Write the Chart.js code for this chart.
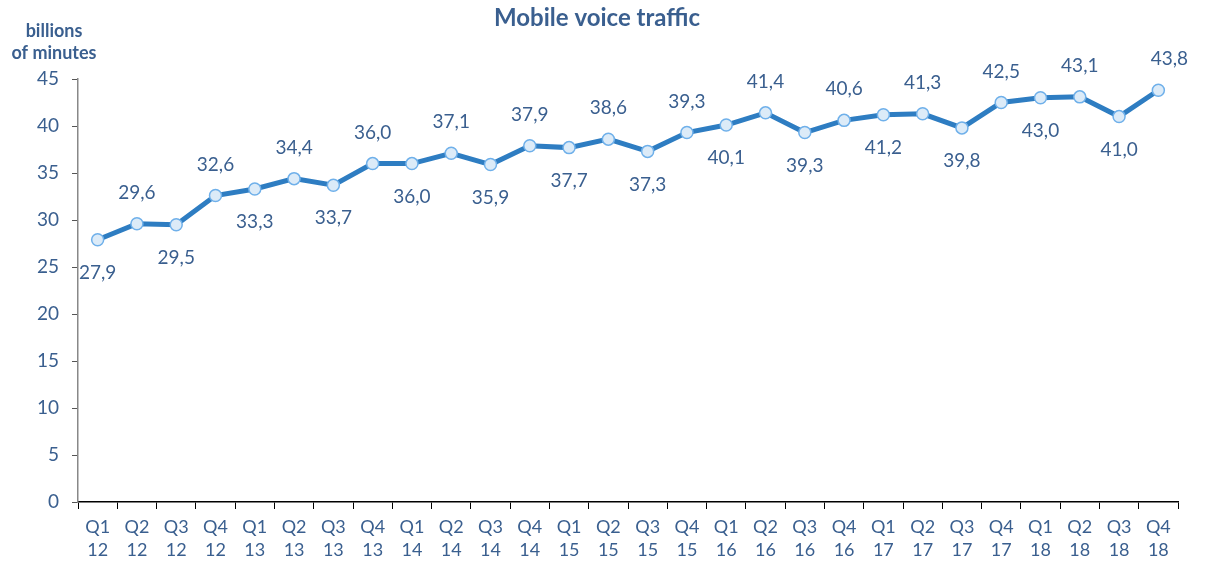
<!DOCTYPE html>
<html lang="en">
<head>
    <meta charset="UTF-8">
    <title>Mobile voice traffic</title>
    <script src="https://cdn.jsdelivr.net/npm/chart.js@4.0.1/dist/chart.umd.min.js"></script>
    <style>
        html, body {
            margin: 0;
            padding: 0;
            background: #fff;
        }
        .wrap {
            width: 1207px;
            height: 567px;
        }
    </style>
</head>
<body>
    <div class="wrap">
        <canvas id="chrt" aria-label="chart" role="img"></canvas>
    </div>
    <script>
        const quarters = ['Q1', 'Q2', 'Q3', 'Q4']
        const years = ['12', '13', '14', '15', '16', '17', '18']
        const traffic = [27.9, 29.6, 29.5, 32.6, 33.3, 34.4, 33.7, 36.0, 36.0, 37.1, 35.9, 37.9, 37.7, 38.6,
            37.3, 39.3, 40.1, 41.4, 39.3, 40.6, 41.2, 41.3, 39.8, 42.5, 43.0, 43.1, 41.0, 43.8]
        // where each value label sits: 1 = above the point, -1 = below
        const labelSide = [-1, 1, -1, 1, -1, 1, -1, 1, -1, 1, -1, 1, -1, 1,
            -1, 1, -1, 1, -1, 1, -1, 1, -1, 1, -1, 1, -1, 1]

        let labels = []
        years.forEach(y => quarters.forEach(q => labels.push([q, y])))

        const blue = '#3a5f8f'
        const font = 'Lato, "Open Sans", sans-serif'

        // value labels + y axis caption + title
        const textPlugin = {
            id: 'texts',
            afterDatasetsDraw(chart) {
                const ctx = chart.ctx
                const meta = chart.getDatasetMeta(0)
                ctx.save()
                ctx.fillStyle = blue
                ctx.font = '19px ' + font
                ctx.textAlign = 'center'
                ctx.textBaseline = 'middle'
                meta.data.forEach((p, i) => {
                    let txt = traffic[i].toFixed(1).replace('.', ',')
                    let dx = 0
                    if (i === traffic.length - 1) dx = 11
                    let dy = labelSide[i] > 0 ? -31 : 33
                    ctx.fillText(txt, p.x + dx, p.y + dy)
                })
                ctx.font = 'bold 18px ' + font
                ctx.fillText('billions', 54, 31)
                ctx.fillText('of minutes', 54, 53)
                ctx.font = 'bold 24px ' + font
                ctx.fillText('Mobile voice traffic', 597, 18)
                ctx.restore()
            }
        }

        let chrt = document.getElementById('chrt').getContext('2d')
        let myChart = new Chart(chrt, {
            type: 'line',
            data: {
                labels: labels,
                datasets: [
                    {
                        data: traffic,
                        label: 'Mobile voice traffic',
                        borderColor: '#2e7dc2',
                        borderWidth: 5,
                        pointRadius: 6,
                        pointBorderWidth: 1.5,
                        pointBackgroundColor: '#dcebf8',
                        pointBorderColor: '#6fb0ea',
                        tension: 0
                    }
                ]
            },
            options: {
                responsive: true,
                maintainAspectRatio: false,
                animation: false,
                layout: {
                    padding: { top: 79, right: 29, left: 0, bottom: 0 }
                },
                plugins: {
                    legend: { display: false },
                    title: { display: false },
                    tooltip: { enabled: false }
                },
                scales: {
                    x: {
                        offset: true,
                        grid: {
                            offset: true,
                            drawOnChartArea: false,
                            tickLength: 7,
                            color: '#000'
                        },
                        border: { color: '#000', width: 1.5 },
                        ticks: {
                            color: blue,
                            font: { family: font, size: 18, lineHeight: 1.3 },
                            maxRotation: 0,
                            autoSkip: false,
                            padding: 6
                        },
                        afterFit(scale) { scale.height = 65 }
                    },
                    y: {
                        min: 0,
                        max: 45,
                        grid: {
                            drawOnChartArea: false,
                            tickLength: 6,
                            color: '#555'
                        },
                        border: { color: '#888', width: 1.5 },
                        ticks: {
                            stepSize: 5,
                            color: blue,
                            font: { family: font, size: 19 },
                            padding: 13
                        },
                        afterFit(scale) { scale.width = 78 }
                    }
                }
            },
            plugins: [textPlugin]
        })
    </script>
</body>
</html>
